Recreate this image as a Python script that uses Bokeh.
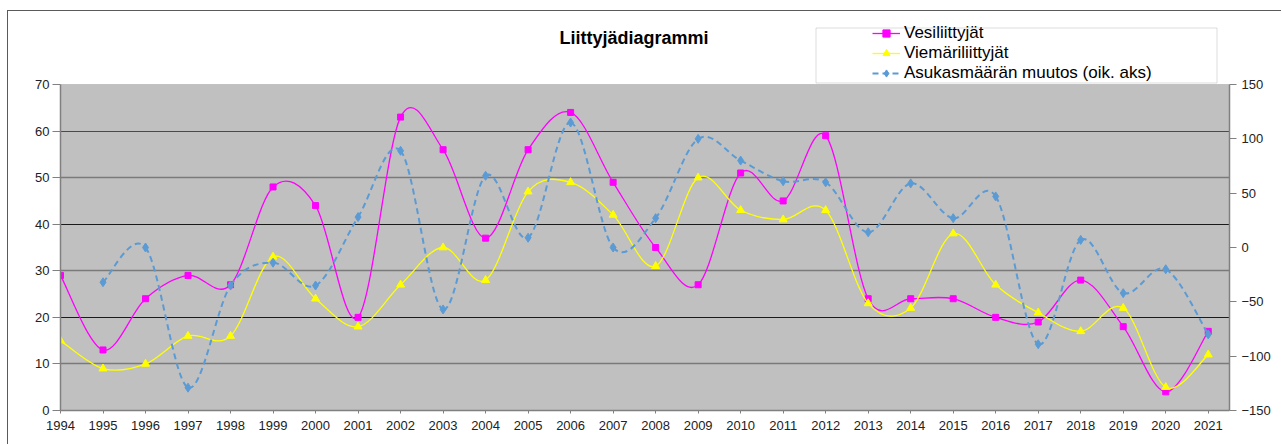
from bokeh.plotting import figure
from bokeh.models import (Range1d, LinearAxis, FixedTicker, Grid, Legend, LegendItem,
                          BoxAnnotation, ColumnDataSource, Label)
from bokeh.embed import file_html
from bokeh.resources import INLINE

# ---- data ----
years = list(range(1994, 2022))
vesi = [29, 13, 24, 29, 27, 48, 44, 20, 63, 56, 37, 56, 64, 49, 35, 27, 51, 45, 59, 24,
        24, 24, 20, 19, 28, 18, 4, 17]
viemari = [15, 9, 10, 16, 16, 33, 24, 18, 27, 35, 28, 47, 49, 42, 31, 50, 43, 41, 43, 23,
           22, 38, 27, 21, 17, 22, 5, 12]
asukas_years = list(range(1995, 2022))
asukas = [-32, 0, -129, -35, -14, -35, 28, 89, -57, 66, 9, 115, 0, 27, 100, 80, 61, 60, 14,
          59, 27, 47, -89, 7, -42, -20, -80]
left_ticks = [0, 10, 20, 30, 40, 50, 60, 70]
right_ticks = [-150, -100, -50, 0, 50, 100, 150]
x_min, x_max = 1994, 2021.5
left_min, left_max = 0, 70
right_min, right_max = -150, 150

TITLE = "Liittyjädiagrammi"
LABELS = ["Vesiliittyjät", "Viemäriliittyjät", "Asukasmäärän muutos (oik. aks)"]
FONT = "Liberation Sans"

# ---- layout (pixels) ----
W, H = 1274, 434          # canvas size
FRAME_L, FRAME_R = 52, 1221
FRAME_B = 399              # frame bottom (canvas y); frame top is canvas y=0
AREA_TOP = 73              # top of the grey plot area (canvas y)
frac = FRAME_B / (FRAME_B - AREA_TOP)


def smooth(xs, ys):
    """Bezier control points for a smoothed line through the data points."""
    n = len(xs)
    d = dict(x0=[], y0=[], x1=[], y1=[], cx0=[], cy0=[], cx1=[], cy1=[])
    for i in range(n - 1):
        p0 = (xs[i - 1], ys[i - 1]) if i > 0 else (xs[i], ys[i])
        p1 = (xs[i], ys[i])
        p2 = (xs[i + 1], ys[i + 1])
        p3 = (xs[i + 2], ys[i + 2]) if i + 2 < n else (xs[i + 1], ys[i + 1])
        d["x0"].append(p1[0]); d["y0"].append(p1[1])
        d["x1"].append(p2[0]); d["y1"].append(p2[1])
        d["cx0"].append(p1[0] + (p2[0] - p0[0]) / 6.0)
        d["cy0"].append(p1[1] + (p2[1] - p0[1]) / 6.0)
        d["cx1"].append(p2[0] - (p3[0] - p1[0]) / 6.0)
        d["cy1"].append(p2[1] - (p3[1] - p1[1]) / 6.0)
    return ColumnDataSource(d)


p = figure(width=W, height=H, x_range=Range1d(x_min, x_max),
           y_range=Range1d(left_min, left_min + (left_max - left_min) * frac),
           output_backend="svg", toolbar_location=None,
           min_border_left=FRAME_L, min_border_right=W - FRAME_R,
           min_border_top=0, min_border_bottom=H - FRAME_B)
p.extra_y_ranges = {"r": Range1d(right_min, right_min + (right_max - right_min) * frac)}
p.margin = (10, 0, 0, 7)
p.styles = {"border-top": "1px solid #5a5a5a", "border-left": "1px solid #5a5a5a"}

p.background_fill_color = "white"
p.border_fill_color = "white"
p.outline_line_color = None

# grey plot area
p.add_layout(BoxAnnotation(left=x_min, right=x_max, bottom=left_min, top=left_max,
                           fill_color="#C0C0C0", fill_alpha=1,
                           line_color="#808080", line_width=1, level="underlay"))

# grids
p.xgrid.visible = False
p.ygrid.visible = False
p.add_layout(Grid(dimension=1, ticker=FixedTicker(ticks=[20, 40]),
                  grid_line_color="#1a1a1a", grid_line_width=1))
p.add_layout(Grid(dimension=1, ticker=FixedTicker(ticks=[60]),
                  grid_line_color="#4a4a4a", grid_line_width=1))
p.add_layout(Grid(dimension=1, ticker=FixedTicker(ticks=[10, 30, 50]),
                  grid_line_color="#7a7a7a", grid_line_width=1.5))


# axes
def style_axis(ax, ticks):
    ax.ticker = FixedTicker(ticks=ticks)
    ax.minor_tick_line_color = None
    ax.major_label_text_font = FONT
    ax.major_label_text_font_size = "13px"
    ax.major_label_text_color = "#222222"
    ax.axis_line_color = "#808080"
    ax.axis_line_width = 1.5
    ax.major_tick_line_color = "#808080"
    ax.major_tick_in = 0


style_axis(p.yaxis[0], left_ticks)
p.yaxis[0].bounds = (left_min, left_max)
p.yaxis[0].major_tick_out = 8
p.yaxis[0].major_label_standoff = 3
style_axis(p.xaxis[0], years)
p.xaxis[0].major_tick_out = 3
p.xaxis[0].major_label_standoff = 7

raxis = LinearAxis(y_range_name="r", bounds=(right_min, right_max))
style_axis(raxis, right_ticks)
raxis.major_tick_out = 7
raxis.major_label_standoff = 5
p.add_layout(raxis, "right")

# legend box
p.add_layout(BoxAnnotation(left=806.5, right=1207.5, top=15.5, bottom=70.5,
                           left_units="canvas", right_units="canvas",
                           top_units="canvas", bottom_units="canvas",
                           fill_color="white", fill_alpha=1,
                           line_color="#8c8c8c", line_width=1))

# title
p.add_layout(Label(x=550, y=25, x_units="canvas", y_units="canvas", text=TITLE,
                   text_font=FONT, text_font_size="18px", text_font_style="bold",
                   text_color="black", text_align="left", text_baseline="middle"))

# series
MAG = "#FF00FF"
YEL = "#FFFF00"
BLU = "#5B9BD5"

b1 = p.bezier("x0", "y0", "x1", "y1", "cx0", "cy0", "cx1", "cy1",
              source=smooth(years, vesi), line_color=MAG, line_width=1.3)
s1 = p.scatter(years, vesi, marker="square", size=6, fill_color=MAG, line_color=MAG)

b2 = p.bezier("x0", "y0", "x1", "y1", "cx0", "cy0", "cx1", "cy1",
              source=smooth(years, viemari), line_color=YEL, line_width=1.3)
s2 = p.scatter(years, viemari, marker="triangle", size=8, fill_color=YEL, line_color=YEL)

b3 = p.bezier("x0", "y0", "x1", "y1", "cx0", "cy0", "cx1", "cy1",
              source=smooth(asukas_years, asukas), line_color=BLU, line_width=2,
              line_dash="6 4", y_range_name="r")
s3 = p.scatter(asukas_years, asukas, marker="diamond", size=9, fill_color=BLU,
               line_color=BLU, y_range_name="r")

legend = Legend(items=[LegendItem(label=LABELS[0], renderers=[b1, s1]),
                       LegendItem(label=LABELS[1], renderers=[b2, s2]),
                       LegendItem(label=LABELS[2], renderers=[b3, s3])],
                location=(812, 327.5), orientation="vertical",
                label_text_font=FONT, label_text_font_size="17px",
                label_text_color="black",
                glyph_width=28, glyph_height=18, label_height=18, label_standoff=4,
                spacing=-2, padding=0, margin=0,
                border_line_alpha=0, background_fill_alpha=0)
p.add_layout(legend)

open("out.html", "w").write(file_html(p, INLINE))
